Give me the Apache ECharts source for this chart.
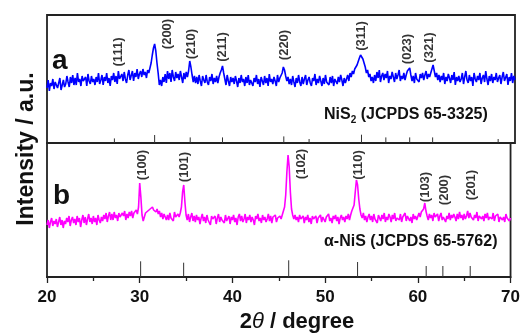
<!DOCTYPE html>
<html>
<head>
<meta charset="utf-8">
<script src="https://cdn.jsdelivr.net/npm/echarts@6/dist/echarts.min.js"></script>
<style>
html,body{margin:0;padding:0;background:#fff;}
#chart{width:523px;height:334px;}
</style>
</head>
<body>
<div id="chart"></div>
<script>
// 2-theta sampling grid (degrees), 0.125 deg step, one row per degree
const thetaStart = 20, thetaStep = 0.125;
// NiS2 pattern (a), intensity a.u.
const nis2Intensity = [
55,63,52,60,57,64,54,61,  62,55,60,65,53,58,63,56,  59,67,61,56,66,60,68,58,
65,58,70,61,64,57,67,62,  60,66,57,69,62,59,67,61,  64,58,66,61,70,59,63,68,
58,66,62,70,60,65,57,67,  63,70,61,67,59,72,64,62,  69,62,71,64,60,68,73,63,
65,72,62,70,66,74,64,69,  72,66,74,68,71,65,73,70,  75,80,88,95,99,92,80,70,
58,63,57,66,61,69,60,72,  64,70,61,73,66,62,71,65,  69,63,72,66,60,70,64,71,
66,72,82,76,68,61,67,60,  66,59,68,62,57,67,63,60,  68,61,58,66,62,69,59,65,
61,67,60,66,70,73,77,70,  64,58,68,62,57,66,61,65,  59,67,62,56,65,60,68,61,
64,57,66,60,68,58,63,61,  57,65,61,68,59,64,56,66,  62,58,67,60,65,57,69,61,
64,59,66,62,57,68,61,65,  66,70,76,73,67,62,66,59,  64,58,67,61,56,65,60,68,
61,57,66,59,64,68,58,63,  66,60,57,65,62,69,58,64,  60,67,62,57,65,59,68,61,
63,58,66,60,67,57,64,62,  59,66,61,68,63,57,65,60,  64,68,62,70,66,72,69,74,
73,78,80,85,88,90,84,80,  76,70,73,66,69,62,66,60,  68,62,71,65,73,61,67,70,
63,69,65,72,60,67,64,71,  66,61,70,64,68,73,62,67,  64,70,63,68,72,70,75,68,
62,67,60,70,64,66,61,69,  65,70,63,68,72,64,69,66,  70,74,78,72,66,70,63,68,
61,67,63,70,59,66,62,69,  65,60,68,63,71,58,66,62,  67,61,64,70,59,66,72,63,
60,68,62,66,57,70,64,61,  67,63,70,59,65,68,61,72,  64,58,67,62,69,60,66,63,
70,61,65,68,59,66,71,62,  64,69,58,66,62,70,60,67,
63
];
// alpha-NiS pattern (b), intensity a.u.
const nisIntensity = [
52,57,49,55,59,51,56,53,  58,50,55,60,52,57,49,56,  53,59,55,61,51,57,60,54,
58,52,61,55,59,50,57,62,  54,60,52,58,63,55,59,53,  61,55,59,52,62,57,54,60,
56,62,58,64,55,61,65,57,  63,57,65,59,62,56,64,60,  58,64,61,66,57,63,59,65,
61,66,59,64,62,67,63,70,  94,80,62,56,60,64,62,66,  64,68,66,70,67,69,65,68,
63,66,60,64,58,63,61,57,  62,57,64,59,61,56,65,60,  58,63,60,64,70,85,92,75,
62,57,63,55,60,64,56,61,  55,62,57,60,53,59,63,56,  60,54,62,57,59,52,61,58,
56,61,53,59,63,55,60,57,  59,54,62,56,58,61,53,60,  57,62,55,59,52,60,63,56,
61,55,58,63,54,60,57,62,  55,60,57,52,61,58,63,56,  59,54,62,57,60,55,58,63,
56,61,54,60,58,62,55,59,  57,61,58,62,64,70,82,105, 122,110,85,68,62,58,62,57,
60,55,62,58,56,61,54,60,  57,62,55,59,53,61,58,56,  61,54,59,57,62,55,60,58,
55,60,58,63,56,59,54,61,  58,62,56,60,53,59,62,57,  60,55,61,58,63,57,62,66,
66,72,85,97,92,78,68,62,  59,64,57,61,55,60,63,57,  61,55,63,58,60,54,62,59,
56,62,58,64,55,60,57,63,  60,55,62,58,64,56,59,61,  57,63,55,60,58,64,56,61,
62,56,60,54,63,58,61,57,  59,64,60,65,63,68,74,66,  61,57,63,59,62,56,64,60,
58,63,56,61,64,57,60,62,  55,61,58,64,57,62,59,63,  60,56,63,58,65,59,62,57,
63,58,61,66,59,64,60,62,  57,62,59,65,56,61,63,58,  61,56,63,59,64,57,60,62,
58,64,56,61,59,63,55,60,  62,57,60,55,63,59,61,56,
59
];
// JCPDS reference lines
const nis2RefPos = [27.2, 31.5, 35.3, 38.75, 45.3, 48.0, 53.6, 56.2, 58.75, 61.2, 68.2];
const nis2RefInt = [4.6, 8, 5.6, 5.6, 6.6, 4, 8.3, 5.6, 5.6, 5.6, 4];
const nisRefPos = [30.1, 34.74, 46.07, 53.5, 60.9, 62.7, 65.65];
const nisRefInt = [15.7, 14.3, 16.7, 15, 11, 11, 11];
// Miller index labels
const nis2Hkl = ['(111)', '(200)', '(210)', '(211)', '(220)', '(311)', '(023)', '(321)'];
const nis2HklX = [27.6, 32.85, 35.4, 38.75, 45.4, 53.55, 58.5, 60.9];
const nis2HklY = [91, 109, 99, 96, 98, 107, 94, 95.5];
const nisHkl = ['(100)', '(101)', '(102)', '(110)', '(103)', '(200)', '(201)'];
const nisHklX = [30.26, 34.8, 47.45, 53.55, 60.8, 62.9, 65.8];
const nisHklY = [112, 110, 113, 112, 90, 87, 92];
const xTicks = [20, 30, 40, 50, 60, 70];

const FONT = "'Liberation Sans', Arial, sans-serif";
const toXY = arr => arr.map((v, i) => [thetaStart + i * thetaStep, v]);
const sticks = (pos, h) => pos.map((p, i) => [p, h[i]]);
const hklData = (names, xs, ys) => names.map((n, i) => ({ name: n, value: [xs[i], ys[i]] }));

const stickRender = (params, api) => {
  const p0 = api.coord([api.value(0), 0]);
  const p1 = api.coord([api.value(0), api.value(1)]);
  return { type: 'line', shape: { x1: p0[0], y1: p0[1], x2: p1[0], y2: p1[1] },
           style: { stroke: '#333', lineWidth: 1 } };
};
const hklLabel = { show: true, position: 'inside', rotate: 90, formatter: '{b}',
  fontFamily: FONT, fontWeight: 'bold', fontSize: 13, color: '#000' };

const chart = echarts.init(document.getElementById('chart'), null, { renderer: 'canvas' });
chart.setOption({
  animation: false,
  backgroundColor: '#fff',
  grid: [
    { left: 47, right: 8, top: 15, height: 128, show: true, borderColor: '#222', borderWidth: 1.8 },
    { left: 47, right: 8, top: 143, height: 134, show: true, borderColor: '#222', borderWidth: 1.8 }
  ],
  xAxis: [
    { gridIndex: 0, type: 'value', min: 20, max: 70, interval: 10,
      axisLine: { show: false }, axisTick: { show: false }, axisLabel: { show: false }, splitLine: { show: false } },
    { gridIndex: 1, type: 'value', min: 20, max: 70, interval: 10,
      axisLine: { show: true, lineStyle: { color: '#222', width: 1.8 } },
      axisTick: { show: true, inside: false, length: 6, lineStyle: { color: '#222', width: 1.3 } },
      minorTick: { show: true, splitNumber: 2, length: 4, lineStyle: { color: '#222', width: 1.3 } },
      axisLabel: { show: true, margin: 12, fontFamily: FONT, fontWeight: 'bold', fontSize: 17, color: '#111',
                   formatter: v => (xTicks.indexOf(v) >= 0 ? String(v) : '') },
      splitLine: { show: false } }
  ],
  yAxis: [
    { gridIndex: 0, type: 'value', min: 0, max: 128, show: false, splitLine: { show: false } },
    { gridIndex: 1, type: 'value', min: 0, max: 134, show: false, splitLine: { show: false } }
  ],
  series: [
    { type: 'line', xAxisIndex: 0, yAxisIndex: 0, data: toXY(nis2Intensity), showSymbol: false,
      lineStyle: { color: '#0000ff', width: 1.6 }, silent: true },
    { type: 'line', xAxisIndex: 1, yAxisIndex: 1, data: toXY(nisIntensity), showSymbol: false,
      lineStyle: { color: '#ff00ff', width: 1.6 }, silent: true },
    { type: 'custom', xAxisIndex: 0, yAxisIndex: 0, data: sticks(nis2RefPos, nis2RefInt), renderItem: stickRender, silent: true },
    { type: 'custom', xAxisIndex: 1, yAxisIndex: 1, data: sticks(nisRefPos, nisRefInt), renderItem: stickRender, silent: true },
    { type: 'scatter', xAxisIndex: 0, yAxisIndex: 0, data: hklData(nis2Hkl, nis2HklX, nis2HklY),
      symbolSize: 1, itemStyle: { color: 'rgba(0,0,0,0)' }, label: hklLabel, silent: true },
    { type: 'scatter', xAxisIndex: 1, yAxisIndex: 1, data: hklData(nisHkl, nisHklX, nisHklY),
      symbolSize: 1, itemStyle: { color: 'rgba(0,0,0,0)' }, label: hklLabel, silent: true }
  ],
  graphic: [
    { type: 'text', left: 52, top: 47, style: { text: 'a', font: "bold 28px " + FONT, fill: '#111' } },
    { type: 'text', left: 53, top: 182, style: { text: 'b', font: "bold 28px " + FONT, fill: '#111' } },
    { type: 'text', left: 324, top: 107, style: {
        text: '{n|NiS}{s|2}{n| (JCPDS 65-3325)}',
        rich: { n: { fontFamily: FONT, fontWeight: 'bold', fontSize: 16, fill: '#111', lineHeight: 18, verticalAlign: 'top' },
                s: { fontFamily: FONT, fontWeight: 'bold', fontSize: 10, fill: '#111', lineHeight: 18, verticalAlign: 'bottom', padding: [8, 0, 0, 0] } } } },
    { type: 'text', left: 324, top: 234, style: { text: 'α-NiS (JCPDS 65-5762)', font: "bold 16px " + FONT, fill: '#111' } },
    { type: 'text', x: 27, y: 149, rotation: Math.PI / 2, style: {
        text: 'Intensity / a.u.', font: "bold 23px " + FONT, fill: '#111', align: 'center', verticalAlign: 'middle' } },
    { type: 'text', x: 297, y: 322, style: {
        text: '{n|2}{t|θ}{n| / degree}', align: 'center', verticalAlign: 'middle',
        rich: { n: { fontFamily: FONT, fontWeight: 'bold', fontSize: 22, fill: '#111' },
                t: { fontFamily: FONT, fontStyle: 'italic', fontSize: 22, fill: '#111' } } } }
  ]
});
</script>
</body>
</html>
